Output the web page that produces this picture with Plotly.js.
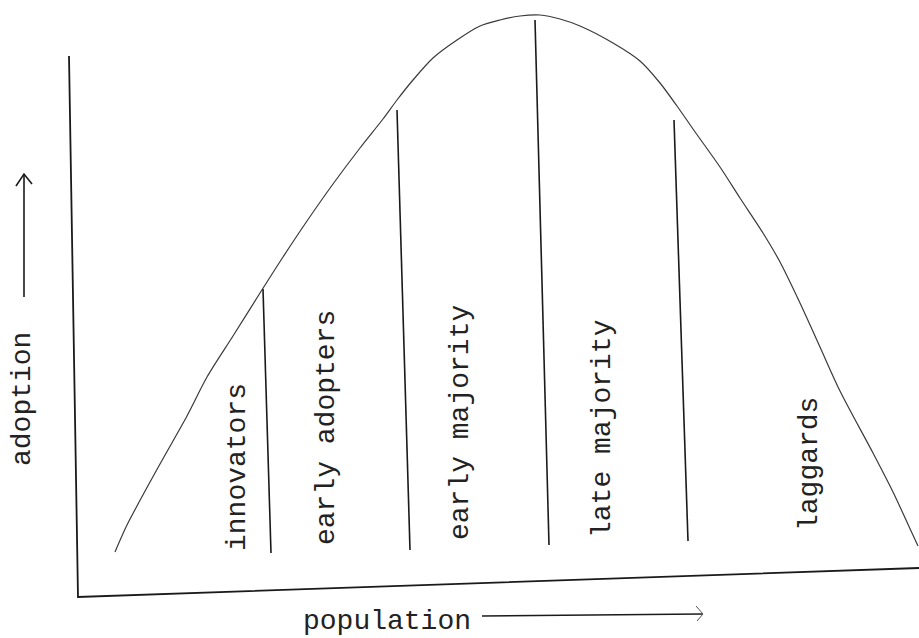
<!DOCTYPE html>
<html>
<head>
<meta charset="utf-8">
<script src="https://cdn.plot.ly/plotly-3.0.1.min.js"></script>
<style>html,body{margin:0;padding:0;background:#fff;}#chart{width:919px;height:638px;}</style>
</head>
<body>
<div id="chart"></div>
<script>
// Adoption curve (drawing units: x to the right, y downward)
var curveX = [115, 127, 160, 187, 207, 233, 260, 283, 307, 333, 360, 383, 397, 413, 433, 457, 480, 500, 520, 540, 560, 580, 613, 640, 660, 677, 693, 720, 740, 763, 780, 800, 820, 840, 873, 893, 912, 918];
var curveY = [552, 525, 464, 416, 377, 336, 293, 257, 221, 184, 148, 119, 100, 80, 58, 40, 26, 20, 16, 15, 19, 26, 43, 61, 83, 106, 129, 167, 198, 233, 262, 303, 347, 391, 453, 492, 533, 546];

// Segment dividers (top and bottom ends)
var dividerTopX = [263, 397, 535, 674];
var dividerTopY = [289, 110, 20, 120];
var dividerBotX = [271, 410, 549, 688];
var dividerBotY = [553, 550, 545, 541];

// Axes (hand-drawn, slightly slanted)
var axisX = [69, 78, 919];
var axisY = [56, 597, 568];

// Segment labels and their positions
var segLabels = ["innovators", "early adopters", "early majority", "late majority", "laggards"];
var segLabelX = [237, 326, 460, 602, 809];
var segLabelY = [467, 428, 423, 429, 464];

// Axis titles with hand-drawn arrows
var yTitle = "adoption";
var yTitleX = 22, yTitleY = 399;
var yArrowX = [24, 24], yArrowY = [297, 174];
var yHeadX = [16, 24, 32], yHeadY = [186, 174, 184];
var xTitle = "population";
var xTitleX = 387, xTitleY = 621;
var xArrowX = [482, 702], xArrowY = [616, 614];
var xHeadX = [696, 703, 697], xHeadY = [606, 614, 621];

var ink = "#1a1a1a";
var traces = [];
traces.push({x: curveX, y: curveY, mode: "lines", line: {color: "#3a3a3a", width: 1.2, shape: "spline", smoothing: 0.8}, hoverinfo: "skip"});
for (var i = 0; i < dividerTopX.length; i++) {
  traces.push({x: [dividerTopX[i], dividerBotX[i]], y: [dividerTopY[i], dividerBotY[i]], mode: "lines", line: {color: ink, width: 1.6}, hoverinfo: "skip"});
}
traces.push({x: axisX, y: axisY, mode: "lines", line: {color: ink, width: 1.8}, hoverinfo: "skip"});
traces.push({x: yArrowX, y: yArrowY, mode: "lines", line: {color: ink, width: 1.6}, hoverinfo: "skip"});
traces.push({x: yHeadX, y: yHeadY, mode: "lines", line: {color: ink, width: 1.6}, hoverinfo: "skip"});
traces.push({x: xArrowX, y: xArrowY, mode: "lines", line: {color: ink, width: 1.3}, hoverinfo: "skip"});
traces.push({x: xHeadX, y: xHeadY, mode: "lines", line: {color: "#555", width: 1}, hoverinfo: "skip"});

var font = {family: "Liberation Mono, Courier New, monospace", size: 28, color: "#222"};
var annotations = [];
for (var j = 0; j < segLabels.length; j++) {
  annotations.push({x: segLabelX[j], y: segLabelY[j], xref: "x", yref: "y", text: segLabels[j], showarrow: false, textangle: -90, font: font, xanchor: "center", yanchor: "middle"});
}
annotations.push({x: yTitleX, y: yTitleY, xref: "x", yref: "y", text: yTitle, showarrow: false, textangle: -90, font: font, xanchor: "center", yanchor: "middle"});
annotations.push({x: xTitleX, y: xTitleY, xref: "x", yref: "y", text: xTitle, showarrow: false, font: font, xanchor: "center", yanchor: "middle"});

var layout = {
  width: 919, height: 638,
  margin: {l: 0, r: 0, t: 0, b: 0},
  paper_bgcolor: "#fff", plot_bgcolor: "#fff",
  showlegend: false,
  xaxis: {range: [0, 919], visible: false, fixedrange: true},
  yaxis: {range: [638, 0], visible: false, fixedrange: true},
  annotations: annotations
};
Plotly.newPlot("chart", traces, layout, {displayModeBar: false, staticPlot: true});
</script>
</body>
</html>
